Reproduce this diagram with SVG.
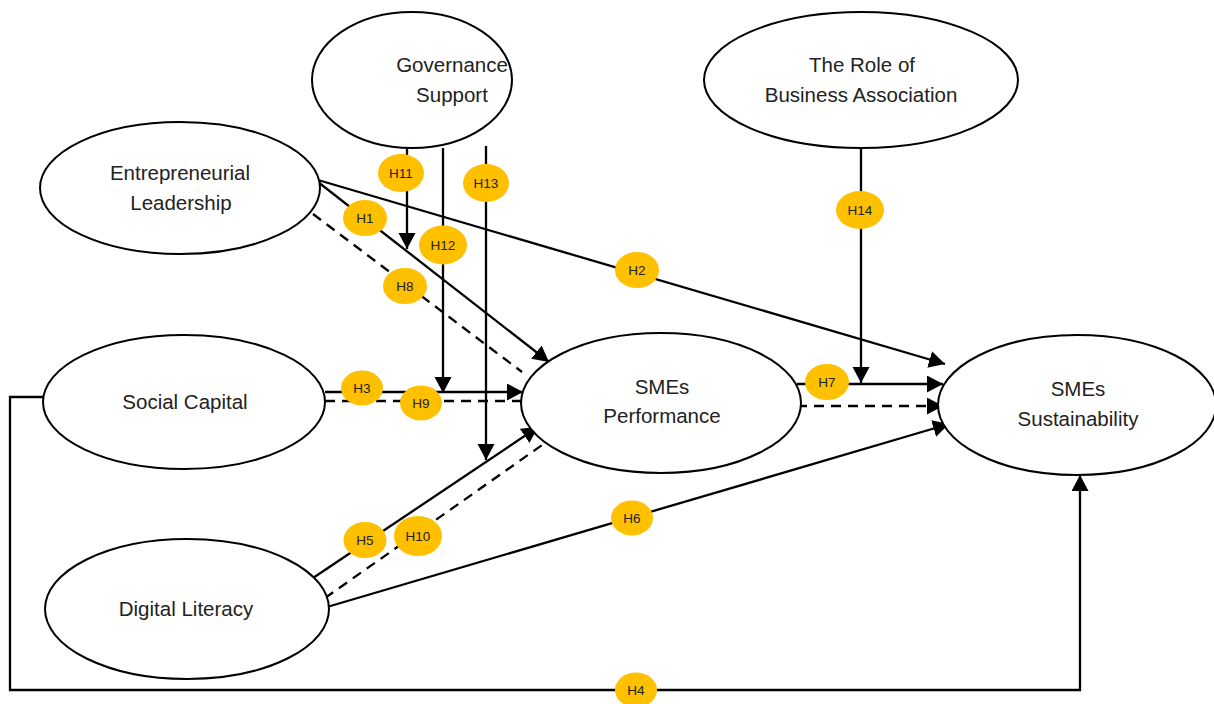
<svg xmlns="http://www.w3.org/2000/svg" width="1214" height="704" viewBox="0 0 1214 704">
<style>
.node ellipse{fill:#fff;stroke:#000;stroke-width:2}
.node text{font-family:"Liberation Sans",Arial,sans-serif;font-size:20.5px;fill:#222;text-anchor:middle}
.c{fill:none;stroke:#000;stroke-width:2.3}
.a{marker-end:url(#arr)}
.d{stroke-dasharray:10,7}
.b ellipse{fill:#FFC000}
.b text{font-family:"Liberation Sans",Arial,sans-serif;font-size:13.5px;fill:#222;text-anchor:middle}
</style>
<defs>
<marker id="arr" markerUnits="userSpaceOnUse" markerWidth="18" markerHeight="18" refX="16" refY="8.5" orient="auto">
<path d="M0,0 L16,8.5 L0,17 z" fill="#000"/>
</marker>
</defs>
<rect width="1214" height="704" fill="#fff"/>
<g id="connectors">
<line class="c a" x1="407" y1="148" x2="407" y2="249"/>
<line class="c a" x1="443" y1="148" x2="443" y2="393"/>
<line class="c a" x1="486" y1="146" x2="486" y2="460"/>
<line class="c a" x1="318" y1="182" x2="549" y2="362"/>
<line class="c a" x1="318" y1="180" x2="945" y2="364"/>
<line class="c d" x1="313" y1="214" x2="522" y2="372"/>
<line class="c a" x1="325" y1="392" x2="523" y2="392"/>
<line class="c d" x1="325" y1="401" x2="523" y2="401"/>
<line class="c a" x1="313" y1="578" x2="538" y2="427"/>
<line class="c d" x1="325" y1="598" x2="562" y2="431"/>
<line class="c a" x1="327" y1="607" x2="949" y2="424"/>
<line class="c a" x1="797" y1="384" x2="943" y2="384"/>
<line class="c d a" x1="797" y1="406" x2="943" y2="406"/>
<line class="c a" x1="861" y1="148" x2="861" y2="383"/>
<polyline class="c a" points="43,397 10,397 10,690 1080,690 1080,475"/>
</g>
<g id="governance" class="node"><ellipse cx="412" cy="80" rx="100" ry="68"/><text x="452" y="72">Governance</text><text x="452" y="102">Support</text></g>
<g id="business-association" class="node"><ellipse cx="861" cy="80" rx="157" ry="68"/><text x="862" y="72">The Role of</text><text x="861" y="102">Business Association</text></g>
<g id="entrepreneurial-leadership" class="node"><ellipse cx="180" cy="188" rx="140" ry="66"/><text x="180" y="180">Entrepreneurial</text><text x="181" y="210">Leadership</text></g>
<g id="social-capital" class="node"><ellipse cx="184" cy="402" rx="141" ry="67"/><text x="185" y="409">Social Capital</text></g>
<g id="digital-literacy" class="node"><ellipse cx="187" cy="609" rx="142" ry="70"/><text x="186" y="616">Digital Literacy</text></g>
<g id="smes-performance" class="node"><ellipse cx="661" cy="403" rx="140" ry="70"/><text x="662" y="394">SMEs</text><text x="662" y="423">Performance</text></g>
<g id="smes-sustainability" class="node"><ellipse cx="1077" cy="405" rx="139" ry="70"/><text x="1078" y="396">SMEs</text><text x="1078" y="426">Sustainability</text></g>
<g id="badges">
<g class="b"><ellipse cx="401" cy="173" rx="23" ry="19"/><text x="401" y="178">H11</text></g>
<g class="b"><ellipse cx="486" cy="183" rx="23" ry="19"/><text x="486" y="188">H13</text></g>
<g class="b"><ellipse cx="365" cy="218" rx="22" ry="18"/><text x="365" y="223">H1</text></g>
<g class="b"><ellipse cx="443" cy="245" rx="24" ry="19.5"/><text x="443" y="250">H12</text></g>
<g class="b"><ellipse cx="405" cy="286" rx="22" ry="18"/><text x="405" y="291">H8</text></g>
<g class="b"><ellipse cx="637" cy="270" rx="22" ry="18"/><text x="637" y="275">H2</text></g>
<g class="b"><ellipse cx="860" cy="210" rx="24" ry="19"/><text x="860" y="215">H14</text></g>
<g class="b"><ellipse cx="362" cy="388" rx="21" ry="17.5"/><text x="362" y="393">H3</text></g>
<g class="b"><ellipse cx="421" cy="403" rx="21" ry="17.5"/><text x="421" y="408">H9</text></g>
<g class="b"><ellipse cx="827" cy="382" rx="22" ry="18"/><text x="827" y="387">H7</text></g>
<g class="b"><ellipse cx="632" cy="518" rx="21" ry="17.5"/><text x="632" y="523">H6</text></g>
<g class="b"><ellipse cx="365" cy="540" rx="21.5" ry="18"/><text x="365" y="545">H5</text></g>
<g class="b"><ellipse cx="418" cy="536" rx="24" ry="20"/><text x="418" y="541">H10</text></g>
<g class="b"><ellipse cx="636" cy="690" rx="21" ry="17.5"/><text x="636" y="695">H4</text></g>
</g>
</svg>
